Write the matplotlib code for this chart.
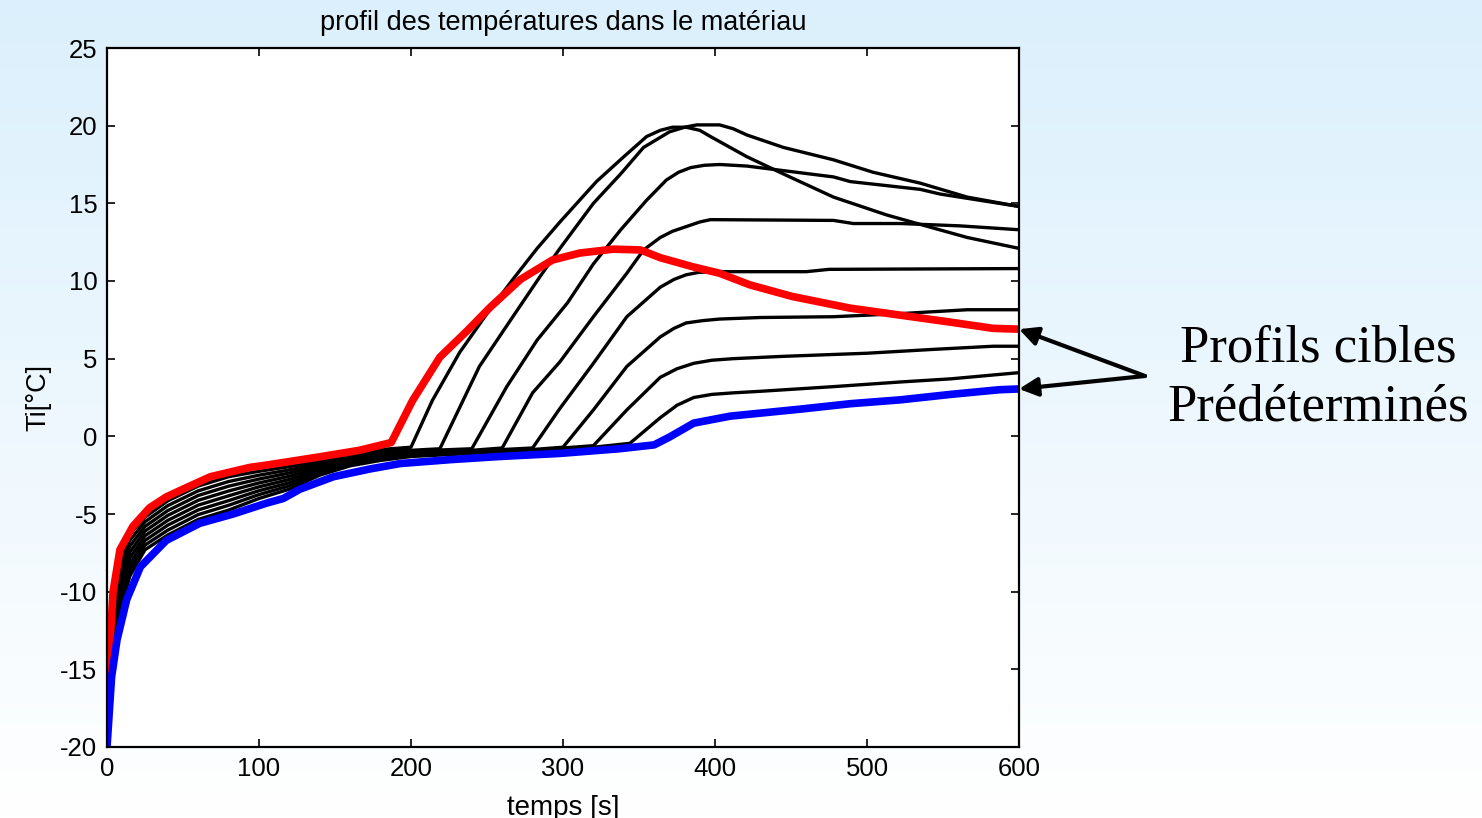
import numpy as np
import matplotlib
matplotlib.use("Agg")
import matplotlib.pyplot as plt

plt.rcParams["font.family"] = ["Liberation Sans", "DejaVu Sans"]
plt.rcParams["axes.unicode_minus"] = False

# ---- data: temperature profiles in the material (time [s], temperature [°C]) ----
red_t = [0, 1.5, 4, 8.5, 17, 28, 39, 50, 68, 94, 105, 138, 166, 187, 201, 219, 237, 252,
         272, 293, 311, 333, 351, 364, 386, 403, 423, 451, 489, 522, 555, 583, 600]
red_T = [-17.5, -14, -10, -7.3, -5.8, -4.6, -3.9, -3.4, -2.6, -2.0, -1.85, -1.35, -0.9, -0.4,
         2.3, 5.1, 6.8, 8.3, 10.1, 11.35, 11.8, 12.05, 12.0, 11.5, 10.9, 10.5, 9.75, 9.0, 8.25,
         7.8, 7.35, 6.95, 6.9]

blue_t = [0, 1, 3, 6.6, 13, 22, 39, 61, 83, 105, 116, 127, 149, 173, 193, 226, 258, 298,
          337, 360, 370, 386, 410, 456, 489, 522, 555, 587, 600]
blue_T = [-20, -18.5, -15.5, -13.1, -10.5, -8.4, -6.7, -5.6, -5.0, -4.3, -4.0, -3.4, -2.6,
          -2.1, -1.75, -1.5, -1.3, -1.1, -0.8, -0.55, -0.05, 0.85, 1.3, 1.75, 2.1, 2.35, 2.7,
          3.0, 3.05]

early_t = [0, 2, 4, 8, 15, 25, 40, 60, 80, 100, 120, 140, 160, 180]

c1_t = early_t + [200, 214, 232, 250, 267, 283, 298, 322, 340, 355, 364, 372, 381, 390, 397,
                  421, 447, 478, 513, 544, 566, 600]
c1_T = [-17.8, -13.6, -10.3, -7.8, -6.3, -5.2, -4.15, -3.2, -2.6, -2.25, -1.95, -1.6, -1.25,
        -0.85, -0.7, 2.3, 5.4, 7.9, 10.1, 12.1, 13.8, 16.4, 18.0, 19.3, 19.7, 19.9, 19.9,
        19.7, 19.3, 18.0, 16.8, 15.4, 14.25, 13.4, 12.8, 12.1]

c2_t = early_t + [200, 219, 245, 267, 285, 298, 320, 338, 353, 370, 380, 388, 403, 412, 421,
                  445, 478, 504, 535, 566, 600]
c2_T = [-18.07, -14.01, -10.81, -8.33, -6.69, -5.5, -4.46, -3.51, -2.91, -2.5, -2.16, -1.73,
        -1.34, -0.95, -0.9, -0.8, 4.5, 7.7, 10.3, 12.1, 15.0, 16.9, 18.6, 19.6, 19.9, 20.05,
        20.05, 19.8, 19.4, 18.6, 17.8, 17.0, 16.3, 15.4, 14.8]

c3_t = early_t + [200, 240, 263, 283, 303, 320, 338, 355, 368, 376, 384, 393, 403, 421, 478,
                  489, 535, 548, 600]
c3_T = [-18.34, -14.43, -11.33, -8.86, -7.07, -5.8, -4.78, -3.81, -3.21, -2.75, -2.36, -1.86,
        -1.44, -1.05, -0.95, -0.8, 3.2, 6.2, 8.6, 11.1, 13.3, 15.2, 16.5, 17.0, 17.3, 17.45,
        17.5, 17.4, 16.7, 16.4, 15.9, 15.6, 14.8]

c4_t = early_t + [200, 240, 260, 280, 298, 320, 342, 353, 364, 372, 381, 390, 397, 478, 491,
                  522, 561, 600]
c4_T = [-18.61, -14.84, -11.84, -9.39, -7.46, -6.1, -5.09, -4.12, -3.52, -3.0, -2.57, -1.99,
        -1.53, -1.15, -1.0, -0.9, -0.75, 2.8, 4.8, 7.7, 10.5, 12.0, 12.8, 13.2, 13.5, 13.8,
        13.95, 13.9, 13.7, 13.7, 13.55, 13.3]

c5_t = early_t + [200, 240, 280, 298, 320, 342, 364, 373, 381, 389, 397, 460, 475, 600]
c5_T = [-18.89, -15.26, -12.36, -9.91, -7.84, -6.4, -5.41, -4.43, -3.83, -3.25, -2.78, -2.11,
        -1.62, -1.25, -1.1, -0.95, -0.75, 1.8, 4.7, 7.7, 9.6, 10.1, 10.4, 10.55, 10.6, 10.6,
        10.75, 10.8]

c6_t = early_t + [200, 240, 280, 300, 320, 342, 364, 373, 381, 392, 403, 430, 478, 522, 566,
                  600]
c6_T = [-19.16, -15.67, -12.87, -10.44, -8.23, -6.7, -5.72, -4.74, -4.14, -3.5, -2.99, -2.24,
        -1.71, -1.35, -1.15, -1.0, -0.85, -0.7, 1.7, 4.5, 6.4, 6.95, 7.3, 7.45, 7.55, 7.65,
        7.7, 7.9, 8.15, 8.15]

c7_t = early_t + [200, 240, 280, 320, 342, 364, 375, 386, 398, 412, 445, 500, 544, 583, 600]
c7_T = [-19.43, -16.09, -13.39, -10.97, -8.61, -7.0, -6.04, -5.04, -4.44, -3.75, -3.19, -2.37,
        -1.81, -1.45, -1.2, -1.05, -0.9, -0.6, 1.7, 3.8, 4.35, 4.7, 4.9, 5.0, 5.15, 5.35,
        5.6, 5.8, 5.8]

c8_t = early_t + [200, 240, 280, 320, 344, 364, 375, 386, 398, 412, 430, 478, 522, 555, 600]
c8_T = [-19.7, -16.5, -13.9, -11.5, -9.0, -7.3, -6.35, -5.35, -4.75, -4.0, -3.4, -2.5, -1.9,
        -1.55, -1.3, -1.1, -0.95, -0.7, -0.45, 1.2, 2.0, 2.5, 2.7, 2.8, 2.9, 3.2, 3.5, 3.7,
        4.1]

black_curves = [(c1_t, c1_T), (c2_t, c2_T), (c3_t, c3_T), (c4_t, c4_T),
                (c5_t, c5_T), (c6_t, c6_T), (c7_t, c7_T), (c8_t, c8_T)]

x_ticks = [0, 100, 200, 300, 400, 500, 600]
y_ticks = [-20, -15, -10, -5, 0, 5, 10, 15, 20, 25]

title = "profil des températures dans le matériau"
x_label = "temps [s]"
y_label = "Ti[°C]"
note = "Profils cibles\nPrédéterminés"

# ---- figure ----
W, H = 1482, 818
fig = plt.figure(figsize=(W / 100, H / 100), dpi=100)

# slide-style background: pale blue fading to white
bg = fig.add_axes([0, 0, 1, 1], zorder=-10)
grad = np.linspace(0, 1, 256)[:, None]
top = np.array([0.86, 0.94, 0.99])
bottom = np.array([1.0, 1.0, 1.0])
img = top[None, None, :] * (1 - grad[:, :, None]) + bottom[None, None, :] * grad[:, :, None]
bg.imshow(img, aspect="auto", extent=[0, 1, 0, 1])
bg.set_axis_off()

ax = fig.add_axes([107 / W, 1 - 747 / H, (1019 - 107) / W, (747 - 48) / H])
ax.set_facecolor("white")

for t, T in black_curves:
    ax.plot(t, T, color="black", lw=2.4, solid_joinstyle="round")
ax.plot(red_t, red_T, color="#ff0000", lw=5.5, solid_joinstyle="round", solid_capstyle="butt")
ax.plot(blue_t, blue_T, color="#0000ff", lw=5.5, solid_joinstyle="round", solid_capstyle="butt")

ax.set_xlim(0, 600)
ax.set_ylim(-20, 25)
ax.set_xticks(x_ticks)
ax.set_yticks(y_ticks)
ax.tick_params(direction="in", length=6, width=1.2, top=True, right=True,
               labelsize=18.5, pad=7, colors="black")
for s in ax.spines.values():
    s.set_linewidth(1.6)
    s.set_color("black")

ax.set_title(title, fontsize=19.5, pad=13)
ax.set_xlabel(x_label, fontsize=20, labelpad=10)
ax.set_ylabel(y_label, fontsize=19.5, labelpad=6)

# callout pointing at the two target profiles
src = (1145 / W, 1 - 376 / H)
for yv in (red_T[-1], blue_T[-1]):
    ax.annotate("", xy=(600, yv), xycoords="data", xytext=src, textcoords="figure fraction",
                arrowprops=dict(arrowstyle="-|>", lw=3, color="black", mutation_scale=28,
                                shrinkA=0, shrinkB=0),
                annotation_clip=False)

fig.text(1318 / W, 1 - 378 / H, note, family=["Liberation Serif", "DejaVu Serif"],
         fontsize=38, ha="center", va="center", linespacing=1.3)

fig.savefig("out.png", dpi=100)
